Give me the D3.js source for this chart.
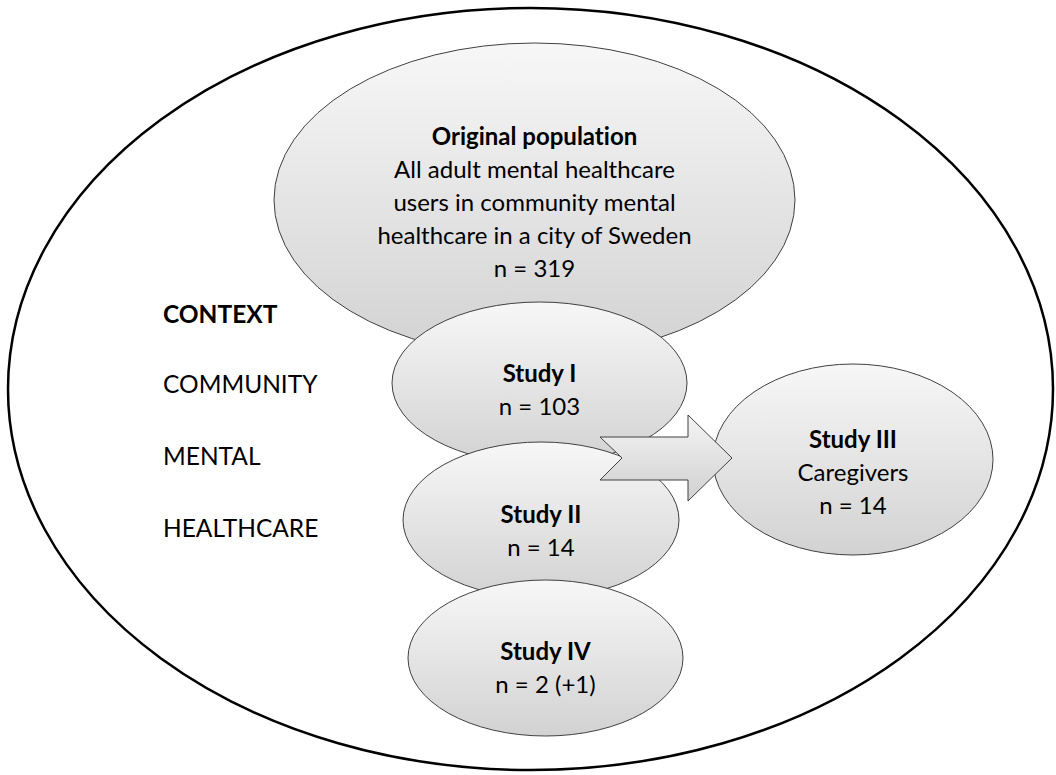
<!DOCTYPE html>
<html>
<head>
<meta charset="utf-8">
<script src="https://cdn.jsdelivr.net/npm/d3@7"></script>
<style>
  body { margin: 0; background: #fff; }
  svg { display: block; }
  text { font-variant-ligatures: none; }
</style>
</head>
<body>
<svg id="chart" width="1056" height="775"></svg>
<script>
// diagram content
const nodeNames = ['Original population', 'Study I', 'Study II', 'Study IV', 'Study III'];
const nodeLines = [
  ['All adult mental healthcare', 'users in community mental', 'healthcare in a city of Sweden', 'n = 319'],
  ['n = 103'],
  ['n = 14'],
  ['n = 2 (+1)'],
  ['Caregivers', 'n = 14']
];
const contextTitle = 'CONTEXT';
const contextWords = ['COMMUNITY', 'MENTAL', 'HEALTHCARE'];

// layout (pixels)
const nodeBox = [
  { cx: 534.5, cy: 200, rx: 260.5, ry: 157, top: 145 },
  { cx: 539.5, cy: 383, rx: 147.5, ry: 81, top: 382 },
  { cx: 541, cy: 520, rx: 138, ry: 78, top: 523 },
  { cx: 545.5, cy: 658, rx: 137.5, ry: 78, top: 660 },
  { cx: 853, cy: 459.5, rx: 140, ry: 95.5, top: 448 }
];
const outer = { cx: 530.5, cy: 389, rx: 522.5, ry: 381 };

const FONT = 'Lato, "Open Sans", sans-serif';
const svg = d3.select('#chart');

const defs = svg.append('defs');
const grad = defs.append('linearGradient')
  .attr('id', 'g1').attr('x1', 0).attr('y1', 0).attr('x2', 0).attr('y2', 1);
grad.append('stop').attr('offset', '0%').attr('stop-color', '#f7f7f7');
grad.append('stop').attr('offset', '100%').attr('stop-color', '#d2d2d2');

// outer context ellipse
svg.append('ellipse')
  .attr('cx', outer.cx).attr('cy', outer.cy)
  .attr('rx', outer.rx).attr('ry', outer.ry)
  .attr('fill', 'none').attr('stroke', '#000').attr('stroke-width', 2.5);

// context labels
const ctx = svg.append('g').attr('font-family', FONT).attr('font-size', 24.5).attr('fill', '#000');
ctx.append('text').attr('x', 163).attr('y', 323).attr('font-weight', 'bold').text(contextTitle);
ctx.selectAll('text.w').data(contextWords).join('text')
  .attr('class', 'w')
  .attr('x', 163)
  .attr('y', (d, i) => 393 + i * 72)
  .text(d => d);

// nodes in drawing order
function drawNode(i) {
  const b = nodeBox[i];
  const g = svg.append('g');
  g.append('ellipse')
    .attr('cx', b.cx).attr('cy', b.cy).attr('rx', b.rx).attr('ry', b.ry)
    .attr('fill', 'url(#g1)').attr('stroke', '#404040').attr('stroke-width', 1);
  const t = g.append('text')
    .attr('font-family', FONT).attr('font-size', 24).attr('fill', '#000')
    .attr('text-anchor', 'middle');
  t.append('tspan').attr('x', b.cx).attr('y', b.top).attr('font-weight', 'bold').text(nodeNames[i]);
  nodeLines[i].forEach((l, k) => {
    t.append('tspan').attr('x', b.cx).attr('y', b.top + (k + 1) * 33).text(l);
  });
}
[0, 1, 2, 3, 4].forEach(drawNode);

// arrow from studies to Study III
const arrowPts = [[600, 437], [688, 437], [688, 415], [732, 458], [688, 501], [688, 480], [600, 480], [622, 458]];
const gradA = defs.append('linearGradient')
  .attr('id', 'g2').attr('x1', 0).attr('y1', 0).attr('x2', 0).attr('y2', 1);
gradA.append('stop').attr('offset', '0%').attr('stop-color', '#f4f4f4');
gradA.append('stop').attr('offset', '100%').attr('stop-color', '#d0d0d0');
svg.append('path')
  .attr('d', d3.line()(arrowPts) + 'Z')
  .attr('fill', 'url(#g2)').attr('stroke', '#404040').attr('stroke-width', 1)
  .attr('stroke-linejoin', 'miter');
</script>
</body>
</html>
